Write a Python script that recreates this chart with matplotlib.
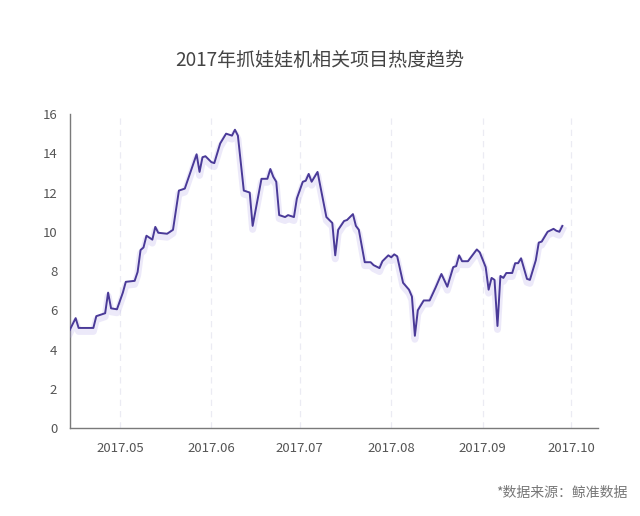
import numpy as np
import pandas as pd
import matplotlib
matplotlib.use("Agg")
import matplotlib.pyplot as plt
import matplotlib.patheffects as pe

plt.rcParams["font.family"] = ["Noto Sans CJK SC", "DejaVu Sans"]

# days since 2017-04-14, and heat index
start = pd.Timestamp("2017-04-14")
days = [0, 2, 3, 8, 9, 12, 13, 14, 16, 18, 19, 22, 23, 24, 25, 26, 28, 29, 30, 33,
        35, 37, 39, 43, 44, 45, 46, 48, 49, 51, 53, 55, 56, 57, 59, 61, 62, 65, 67, 68,
        69, 70, 71, 73, 74, 76, 77, 79, 80, 81, 82, 84, 87, 89, 90, 91, 93, 94, 96, 97,
        98, 100, 102, 103, 105, 106, 108, 109, 110, 111, 113, 115, 116, 117, 118, 120, 122, 124, 126, 128,
        130, 131, 132, 133, 135, 138, 139, 141, 142, 143, 144, 145, 146, 147, 148, 150, 151, 152, 153, 155,
        156, 158, 159, 160, 162, 164, 165, 166, 167]
values = [5.0, 5.6, 5.1, 5.1, 5.7, 5.85, 6.9, 6.1, 6.05, 6.9, 7.45, 7.5, 7.95, 9.07, 9.2, 9.8, 9.6, 10.25, 9.95, 9.9,
          10.1, 12.1, 12.2, 13.95, 13.05, 13.8, 13.85, 13.55, 13.5, 14.5, 15.0, 14.9, 15.2, 14.9, 12.1, 12.0, 10.3, 12.7, 12.7, 13.2,
          12.8, 12.55, 10.85, 10.75, 10.85, 10.75, 11.7, 12.55, 12.6, 12.95, 12.55, 13.05, 10.75, 10.45, 8.8, 10.1, 10.55, 10.6, 10.9, 10.3,
          10.1, 8.45, 8.45, 8.3, 8.15, 8.5, 8.8, 8.7, 8.85, 8.75, 7.4, 7.05, 6.7, 4.7, 6.0, 6.5, 6.5, 7.15, 7.85, 7.2,
          8.2, 8.25, 8.8, 8.5, 8.5, 9.1, 8.95, 8.2, 7.05, 7.65, 7.55, 5.2, 7.75, 7.65, 7.9, 7.9, 8.4, 8.4, 8.65, 7.6,
          7.55, 8.55, 9.45, 9.5, 10.0, 10.15, 10.05, 10.0, 10.3]

month_starts = ["2017-05-01", "2017-06-01", "2017-07-01", "2017-08-01", "2017-09-01", "2017-10-01"]
month_labels = ["2017.05", "2017.06", "2017.07", "2017.08", "2017.09", "2017.10"]
y_ticks = [0, 2, 4, 6, 8, 10, 12, 14, 16]

title = "2017年抓娃娃机相关项目热度趋势"
source = "*数据来源：鲸准数据"

dates = start + pd.to_timedelta(days, unit="D")
months = pd.to_datetime(month_starts)

fig = plt.figure(figsize=(6.4, 5.16), dpi=100)
ax = fig.add_axes([0.109, 0.1705, 0.825, 0.6085])

for m in months:
    ax.axvline(m, color="#ebebf3", lw=0.9, ls=(0, (5, 4)), zorder=1)

ax.plot(dates, values, color="#4a3a98", lw=1.4, zorder=3,
        path_effects=[pe.SimpleLineShadow(offset=(0, -2.5), shadow_color="#b4a8ea", alpha=0.25, linewidth=5),
                      pe.Normal()])

ax.set_xlim(start, pd.Timestamp("2017-10-10"))
ax.set_ylim(0, 16)
ax.set_yticks(y_ticks)
ax.set_xticks(months)
ax.set_xticklabels(month_labels)

for s in ["top", "right"]:
    ax.spines[s].set_visible(False)
for s in ["left", "bottom"]:
    ax.spines[s].set_color("#7a7a7a")
    ax.spines[s].set_linewidth(1.0)
ax.tick_params(axis="both", length=0, labelsize=9.5, colors="#555555")
ax.tick_params(axis="x", pad=10)
ax.tick_params(axis="y", pad=9)

fig.text(0.5, 0.883, title, ha="center", va="center", fontsize=13.7, color="#444444")
fig.text(0.98, 0.045, source, ha="right", va="center", fontsize=10, color="#777777")

fig.savefig("out.png", dpi=100, facecolor="white")
